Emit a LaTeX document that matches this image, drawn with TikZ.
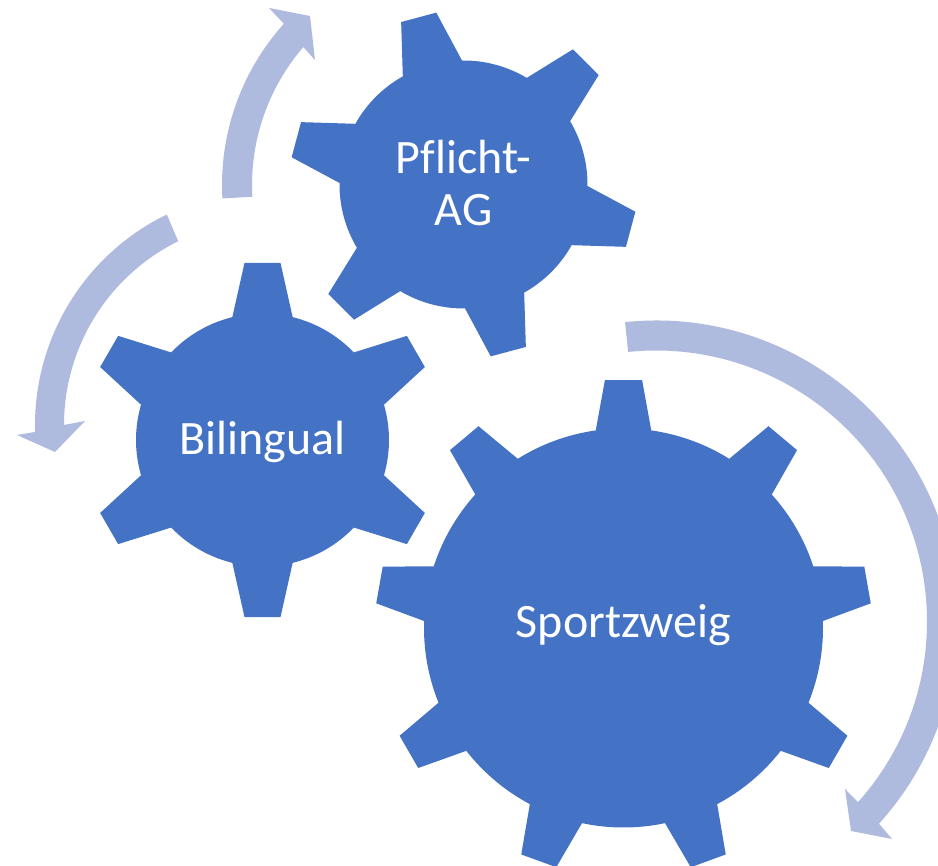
\documentclass[tikz,border=0pt]{standalone}
\usepackage{fontspec}
\setmainfont[Ligatures=NoCommon]{Carlito}
\definecolor{gearblue}{HTML}{4472C4}
\definecolor{arrowblue}{HTML}{AFBBDE}
\tikzset{
  gearfill/.style={fill=gearblue,draw=none},
  arrowfill/.style={fill=arrowblue,draw=none},
  geartext/.style={text=white,font=\fontsize{36}{39.4}\selectfont,align=center,inner sep=0pt}
}
% #1 cx, #2 cy (pixels from top), #3 root r, #4 tip R, #5 root half-angle, #6 tip half-angle, #7 first angle, #8 step, #9 teeth
\newcommand\gearpath[9]{%
  \begin{scope}[shift={(#1,866-#2)}]
    \fill[gearfill] ({#7-#5}:#3)
      \foreach \k in {1,...,#9}{
        -- ({#7+(\k-1)*#8-#6}:#4) -- ({#7+(\k-1)*#8+#6}:#4) -- ({#7+(\k-1)*#8+#5}:#3)
        arc[start angle={#7+(\k-1)*#8+#5},end angle={#7+\k*#8-#5},radius=#3*0.75pt]
      } -- cycle;
  \end{scope}}
% #1 cx, #2 cy, #3 outer R, #4 inner R, #5 outer start, #6 inner start, #7 outer end, #8 inner end, #9 head points
\newcommand\ringarrow[9]{%
  \fill[arrowfill] (#1,866-#2) ++(#5:#3) arc[start angle=#5,end angle=#7,radius=#3*0.75pt]
    #9
    -- ($(#1,866-#2)+(#8:#4)$) arc[start angle=#8,end angle=#6,radius=#4*0.75pt] -- cycle;}
\usetikzlibrary{calc}
\begin{document}
\begin{tikzpicture}[x=0.75pt,y=0.75pt]
\useasboundingbox (0,0) rectangle (938,866);
\clip (0,0) rectangle (938,866);
\gearpath{463.5}{184.5}{124}{174}{14.3}{6}{105}{60}{6}
\gearpath{262.5}{440}{126.5}{178}{13.8}{5.8}{90}{60}{6}
\gearpath{623.5}{628}{199.5}{248.5}{8}{4.3}{90}{40}{9}
\ringarrow{463}{185}{241}{211}{183.2}{183.2}{138}{139.2}{-- (269,866-8) -- (310,866-16) -- (315,866-60)}
\ringarrow{269}{425}{234}{205}{115.9}{116.3}{181.7}{180}{-- (17,866-435) -- (55,866-452) -- (85,866-421)}
\ringarrow{656}{621.5}{301}{271}{95.9}{95.9}{-42.2}{-41.8}{-- (892,866-839) -- (851,866-831) -- (845,866-789)}
\node[geartext] (pflicht) at (463.5,866-183) {Pflicht-\\AG};
\node[geartext,anchor=base] (bilingual) at (262.5,866-455) {Bilingual};
\node[geartext,anchor=base] (sport) at (623.5,866-638) {Sportzweig};
\end{tikzpicture}
\end{document}
